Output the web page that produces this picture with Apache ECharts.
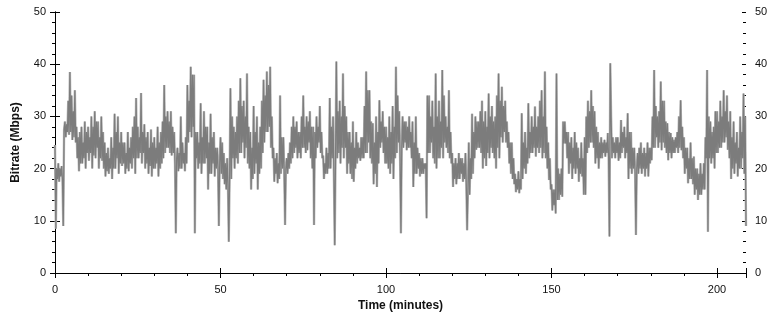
<!DOCTYPE html>
<html>
<head>
<meta charset="utf-8">
<script src="https://cdn.jsdelivr.net/npm/echarts@6/dist/echarts.min.js"></script>
<style>
  html, body { margin: 0; padding: 0; background: #ffffff; }
  #chart { width: 774px; height: 320px; }
</style>
</head>
<body>
<div id="chart"></div>
<script>
// Sampling step of the trace (minutes)
const sampleStepMin = 0.25;

// Bitrate samples (Mbps), four samples per minute (one row = 5 minutes)
const bitrateMbps = [
  24.5, 8.5, 20, 18,  21, 17.5, 20, 18.5,  20.5, 18, 9, 27.5,  29, 26, 28.5, 27,  33, 26.5, 38.5, 27,
  34, 25.5, 31, 26,  35, 25, 28, 22,  26, 19.5, 27, 21,  28, 21, 25, 22,  29, 20, 27, 23,
  28, 21.5, 26, 23,  30, 20, 28, 22.5,  31, 22, 29, 24,  29, 20, 26, 22,  30, 21.5, 27, 20,
  25, 18.5, 23, 19.5,  24, 19, 22, 20,  26, 18, 24, 20,  30.5, 20, 27, 22,  30, 19, 25, 21,
  27, 20.5, 25, 21,  25, 19, 23, 20,  27, 19.5, 24, 21,  26, 20, 28, 22,  30, 19, 33.5, 22,
  28, 22, 26, 23,  34.5, 21, 27, 23,  28.5, 20, 26, 21,  27, 19, 24, 20.5,  27.5, 18.5, 25, 20,
  26, 20, 24, 21,  28, 18.5, 25, 20,  27, 21, 29, 22,  36, 23, 30, 24,  31, 24, 29, 23,
  31, 22.5, 28, 23,  27, 21, 7.6, 22,  24, 19.5, 23, 20,  30, 20, 25, 21,  23, 19.5, 26, 21,
  36, 25, 33, 27,  39.5, 26, 38, 28,  38, 7.6, 27, 22,  27, 20, 25, 21,  32.5, 19, 26, 21,
  31, 21, 28, 22,  28, 16, 25, 19,  30.5, 19, 26, 21,  27, 18.5, 24, 20,  24, 20, 9, 21,
  26, 19, 25, 18,  23, 17, 21, 16,  22, 17, 6, 18,  35.4, 18, 30, 22,  28, 20, 27, 22,
  30, 21, 33, 23,  37.3, 23, 32, 25,  33, 22, 30, 24,  38.2, 21, 28, 20,  27, 16, 24, 18,
  32, 19, 27, 21,  30, 16, 25, 19,  28, 20, 33, 23,  37, 25, 34, 27,  38.6, 27, 36, 28,
  39.5, 24, 30, 22,  24, 17.5, 22, 19,  23, 17.2, 21, 18,  34, 19, 26, 20,  26, 19, 9.2, 20,
  22, 19, 23, 20,  25, 21, 28, 22,  30, 23, 28, 24,  29, 22, 27, 23,  27, 22, 30, 24,
  34, 24, 28, 23,  30, 23.5, 29, 25,  31, 22, 28, 20,  28, 9.2, 27, 22,  30, 24, 28, 25,
  32, 23, 27, 22,  22.5, 18, 21, 19,  24, 19, 23, 20,  33.5, 20, 28, 22,  30, 19, 5.3, 22,
  40.5, 22, 31, 23,  33, 21, 30, 24,  38.2, 22, 32, 24,  30, 19, 27, 21,  27, 19, 25, 18,
  29, 17.5, 24, 20,  27, 21, 25, 22,  24, 21.5, 26, 22,  26, 22, 32, 23,  38.6, 23, 35, 25,
  35, 22, 29, 21,  28.7, 17, 25, 19,  30, 16.5, 27, 21,  33.1, 24, 29, 25,  31, 23, 28, 21,
  28, 21, 26, 20,  30, 19, 27, 21,  32, 18, 28, 22,  39.5, 23, 34, 25,  31, 22, 7.6, 24,
  30, 24, 29, 25,  29, 23.5, 28, 24,  30, 24, 27, 22,  29, 16.5, 25, 19,  30, 19, 24, 20,
  23, 18.5, 22, 19,  22, 19, 21, 20,  21, 10.5, 34, 23,  34, 23, 30, 25,  33, 22, 28, 21,
  38.2, 20, 30, 22,  33, 22, 29, 24,  38.9, 22, 34, 25,  30, 24, 28, 23,  35, 22, 27, 21,
  23, 16.5, 21, 18,  22, 17, 21, 18,  23, 18, 22, 19,  22, 17.5, 21, 18,  23, 17, 8.2, 16,
  25, 15, 22, 18,  30.5, 19, 27, 22,  30, 23.6, 29, 24,  29, 24, 31, 23,  33, 20, 29, 22,
  31, 20.5, 28, 23,  34.4, 22, 30, 24,  32, 23, 29, 22,  30, 20, 34, 24,  38.2, 22, 33, 26,
  35.7, 25, 32, 27,  33, 25, 29, 24,  27, 21, 25, 19,  25, 18, 22, 17,  19, 15.5, 18, 16,
  19.5, 15.3, 18, 16,  30.6, 18, 25, 20,  27, 19, 24, 21,  32.5, 22, 27, 23,  30, 23, 28, 24,
  31.9, 22.3, 28, 24,  30, 23, 33, 24,  35, 22, 30, 23,  38.6, 22, 28, 20,  25, 17.8, 22, 16,
  17, 12, 16, 13,  16, 11.4, 38.2, 14,  20, 14, 19, 15,  20, 14.6, 29, 24.8,  29, 24.8, 27, 22,
  27, 19, 25, 21,  26, 18, 24, 20,  27, 19, 25, 20,  24, 17.5, 22, 19,  25, 18.5, 22, 15,
  26, 15, 30, 23,  33, 24, 31, 25,  35, 25, 32, 24,  31, 21, 28, 22,  27, 20, 25, 22,
  26, 22, 25, 23,  25.5, 22.3, 25, 23,  26.8, 22, 7, 40.2,  30, 22, 26, 23,  25, 22, 26, 23,
  26, 21.5, 25, 22,  29.3, 23, 27, 24,  28, 22, 26, 23,  30.6, 18, 27, 20,  27, 19, 24, 20,
  24, 19, 7.3, 20,  23, 19, 24, 20,  25, 19, 23, 20,  24, 18.5, 23, 20,  25, 18.5, 24, 21,
  24, 21.6, 30, 24,  38.9, 24, 32, 26,  30, 24, 31, 25,  36.7, 23.5, 33, 25,  33, 24, 29, 23,
  28.7, 21.6, 27, 23,  26.8, 22, 26, 23,  25.5, 23, 26, 24,  27, 23, 30, 24,  33.1, 23.5, 28, 22,
  26, 19, 24, 20,  24, 17.2, 22, 18,  25, 18, 22, 17,  22.3, 15, 20, 16,  20, 14, 19, 15,
  21, 15, 19, 16,  21, 16, 26, 22,  38.9, 7.9, 30, 22,  29, 21, 27, 22,  28, 20, 31, 23,
  31, 23, 29, 24,  33, 24, 30, 25,  35, 25, 31, 26,  34, 23.6, 29, 22,  31, 18, 26, 20,
  29, 19, 25, 21,  27, 18.5, 24, 20,  30, 20, 27, 22,  34.4, 19, 30, 9
];

// Axis ranges and tick settings
const xMaxMin = 208.75;
const xTickStep = 50;
const yMax = 50;
const yTickStep = 10;
const xTitle = 'Time (minutes)';
const yTitle = 'Bitrate (Mbps)';

const points = bitrateMbps.map((v, i) => [i * sampleStepMin, v]);

const labelFont = { fontFamily: 'Liberation Sans, Arial, sans-serif', fontSize: 11, color: '#111' };
const titleFont = { fontFamily: 'Liberation Sans, Arial, sans-serif', fontSize: 12, fontWeight: 'bold', color: '#111' };
const axisLine = { show: true, lineStyle: { color: '#000', width: 1 } };
const tickStyle = { color: '#000', width: 1 };

const chart = echarts.init(document.getElementById('chart'), null, { renderer: 'canvas' });
chart.setOption({
  animation: false,
  backgroundColor: '#ffffff',
  grid: { left: 55, right: 28, top: 12, bottom: 47, containLabel: false },
  xAxis: [
    { // bottom, labels + outward ticks
      type: 'value', position: 'bottom', min: 0, max: xMaxMin, interval: xTickStep,
      axisLine: axisLine,
      axisTick: { show: true, inside: false, length: 5, lineStyle: tickStyle },
      minorTick: { show: true, splitNumber: 5, length: 3, lineStyle: tickStyle },
      splitLine: { show: false },
      axisLabel: Object.assign({ margin: 11, showMaxLabel: false }, labelFont),
      name: xTitle, nameLocation: 'middle', nameGap: 27, nameTextStyle: titleFont
    },
    { // bottom, inward major ticks
      type: 'value', position: 'bottom', min: 0, max: xMaxMin, interval: xTickStep,
      axisLine: { show: false },
      axisTick: { show: true, inside: true, length: 5, lineStyle: tickStyle },
      splitLine: { show: false }, axisLabel: { show: false }
    },
    { // top frame with inward ticks
      type: 'value', position: 'top', min: 0, max: xMaxMin, interval: xTickStep,
      axisLine: axisLine,
      axisTick: { show: true, inside: true, length: 5, lineStyle: tickStyle },
      minorTick: { show: true, splitNumber: 5, length: 3, lineStyle: tickStyle },
      splitLine: { show: false }, axisLabel: { show: false }
    }
  ],
  yAxis: [
    { // left, labels + outward ticks
      type: 'value', position: 'left', min: 0, max: yMax, interval: yTickStep,
      axisLine: axisLine,
      axisTick: { show: true, inside: false, length: 5, lineStyle: tickStyle },
      minorTick: { show: true, splitNumber: 5, length: 3, lineStyle: tickStyle },
      splitLine: { show: false },
      axisLabel: Object.assign({ margin: 9 }, labelFont),
      name: yTitle, nameLocation: 'middle', nameGap: 33, nameTextStyle: titleFont
    },
    { // left, inward major ticks
      type: 'value', position: 'left', min: 0, max: yMax, interval: yTickStep,
      axisLine: { show: false },
      axisTick: { show: true, inside: true, length: 4, lineStyle: tickStyle },
      splitLine: { show: false }, axisLabel: { show: false }
    },
    { // right, labels + outward ticks
      type: 'value', position: 'right', min: 0, max: yMax, interval: yTickStep,
      axisLine: axisLine,
      axisTick: { show: true, inside: false, length: 5, lineStyle: tickStyle },
      splitLine: { show: false },
      axisLabel: Object.assign({ margin: 9 }, labelFont)
    },
    { // right, inward ticks
      type: 'value', position: 'right', min: 0, max: yMax, interval: yTickStep,
      axisLine: { show: false },
      axisTick: { show: true, inside: true, length: 4, lineStyle: tickStyle },
      minorTick: { show: true, splitNumber: 5, length: 3, lineStyle: tickStyle },
      splitLine: { show: false }, axisLabel: { show: false }
    }
  ],
  series: [
    {
      type: 'line', data: points, xAxisIndex: 0, yAxisIndex: 0,
      showSymbol: false, sampling: 'none', silent: true,
      lineStyle: { color: '#b8b8b8', width: 2.4 }, z: 1
    },
    {
      type: 'line', data: points, xAxisIndex: 0, yAxisIndex: 0,
      showSymbol: false, sampling: 'none', silent: true,
      lineStyle: { color: '#7c7c7c', width: 1.2 }, z: 2
    }
  ]
});
</script>
</body>
</html>
